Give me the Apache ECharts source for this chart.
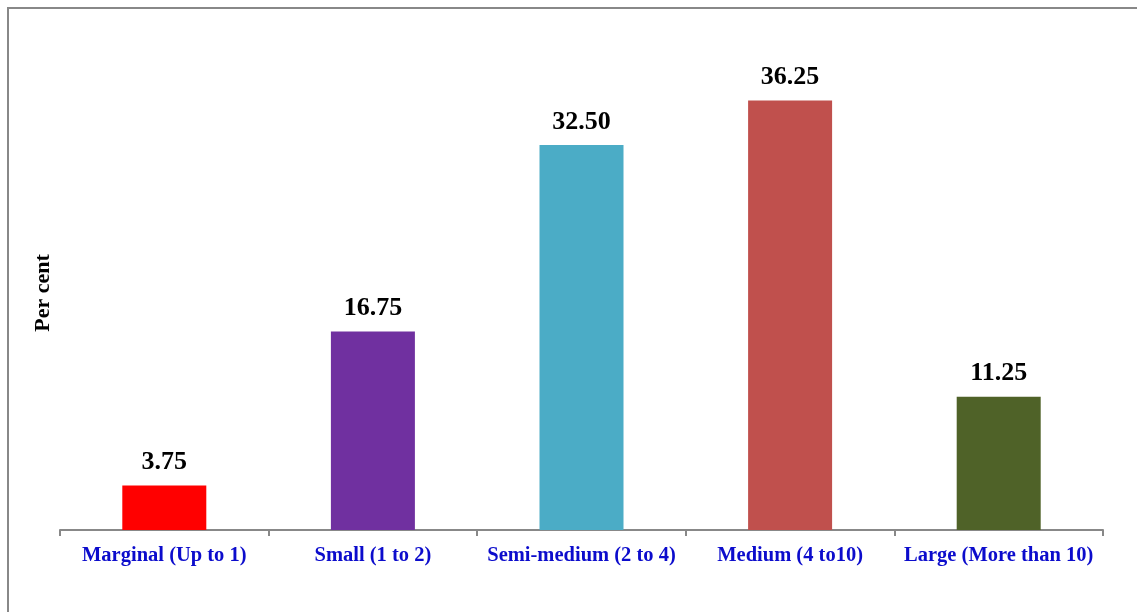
<!DOCTYPE html>
<html><head><meta charset="utf-8">
<script src="https://cdn.jsdelivr.net/npm/echarts@6/dist/echarts.min.js"></script>
<style>
html,body{margin:0;padding:0;background:#fff;}
#frame{position:absolute;left:7px;top:7px;width:1140px;height:620px;border-left:2px solid #888;border-top:2px solid #888;box-sizing:border-box;}
#chart{position:absolute;left:0;top:0;width:1137px;height:612px;}
</style></head>
<body>
<div id="frame"></div>
<div id="chart"></div>
<script>
const categories = ['Marginal (Up to 1)', 'Small (1 to 2)', 'Semi-medium (2 to 4)', 'Medium (4 to10)', 'Large (More than 10)'];
const values = [3.75, 16.75, 32.50, 36.25, 11.25];
const colors = ['#FF0000', '#7030A0', '#4BACC6', '#C0504D', '#4F6228'];

const chart = echarts.init(document.getElementById('chart'));
chart.setOption({
  animation: false,
  grid: { left: 60, right: 34, top: 56, bottom: 82 },
  xAxis: {
    type: 'category',
    data: categories,
    axisLine: { lineStyle: { color: '#888', width: 2 } },
    axisTick: { show: true, interval: 0, length: 6, lineStyle: { color: '#888', width: 2 } },
    axisLabel: { interval: 0, hideOverlap: false, color: '#0C0CCC', fontFamily: 'Liberation Serif', fontWeight: 'bold', fontSize: 20.5, margin: 15 }
  },
  yAxis: {
    type: 'value', min: 0, max: 40,
    name: 'Per cent', nameLocation: 'middle', nameGap: 6, nameRotate: 90,
    nameTextStyle: { color: '#000', fontFamily: 'Liberation Serif', fontWeight: 'bold', fontSize: 22 },
    axisLine: { show: false }, axisTick: { show: false }, axisLabel: { show: false }, splitLine: { show: false }
  },
  series: [{
    type: 'bar',
    barWidth: 84,
    data: values.map((v, i) => ({ value: v, itemStyle: { color: colors[i] } })),
    label: {
      show: true, position: 'top', distance: 10,
      formatter: p => p.value.toFixed(2),
      color: '#000', fontFamily: 'Liberation Serif', fontWeight: 'bold', fontSize: 26
    }
  }]
});
</script>
</body></html>
